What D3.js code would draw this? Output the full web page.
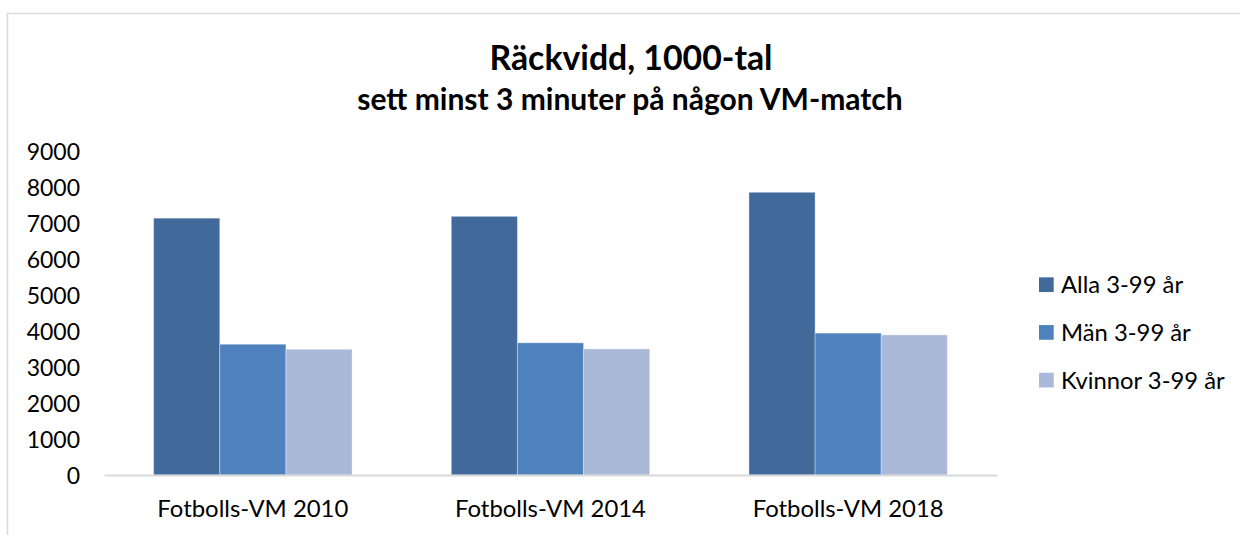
<!DOCTYPE html>
<html>
<head>
<meta charset="utf-8">
<script src="https://cdn.jsdelivr.net/npm/d3@7"></script>
<style>
  html, body { margin: 0; padding: 0; background: #ffffff; }
  svg { display: block; font-family: Lato, "Open Sans", sans-serif; }
</style>
</head>
<body>
<svg id="chart" width="1240" height="535"></svg>
<script>
const title = "Räckvidd, 1000-tal";
const subtitle = "sett minst 3 minuter på någon VM-match";
const categories = ["Fotbolls-VM 2010", "Fotbolls-VM 2014", "Fotbolls-VM 2018"];
const seriesNames = ["Alla 3-99 år", "Män 3-99 år", "Kvinnor 3-99 år"];
const alla = [7150, 7200, 7870];
const man = [3640, 3680, 3950];
const kvinnor = [3500, 3510, 3900];
const yTicks = [0, 1000, 2000, 3000, 4000, 5000, 6000, 7000, 8000, 9000];
const colors = ["#416a9b", "#4f81bd", "#aab9d7"];

const seriesValues = [alla, man, kvinnor];
const data = categories.map((c, i) => ({
  cat: c,
  vals: seriesNames.map((s, j) => ({ key: s, value: seriesValues[j][i] }))
}));

const svg = d3.select("#chart");

// outer chart border (only top & left visible, as in reference)
svg.append("rect")
  .attr("x", 7.5).attr("y", 13.5)
  .attr("width", 1300).attr("height", 600)
  .attr("fill", "none")
  .attr("stroke", "#d9d9d9")
  .attr("stroke-width", 1.5);

// titles
svg.append("text")
  .attr("x", 631).attr("y", 70)
  .attr("text-anchor", "middle")
  .attr("font-weight", 700)
  .attr("font-size", 33.8)
  .attr("fill", "#000")
  .text(title);
svg.append("text")
  .attr("x", 630).attr("y", 110)
  .attr("text-anchor", "middle")
  .attr("font-weight", 700)
  .attr("font-size", 30)
  .attr("fill", "#000")
  .text(subtitle);

const x0 = d3.scaleBand()
  .domain(categories)
  .range([104, 997])
  .paddingInner(1 / 3)
  .paddingOuter(1 / 6);
const x1 = d3.scaleBand()
  .domain(seriesNames)
  .range([0, x0.bandwidth()])
  .padding(0);
const y = d3.scaleLinear()
  .domain([0, 9000])
  .range([475, 151.7]);
const color = d3.scaleOrdinal().domain(seriesNames).range(colors);

// bars
const groups = svg.append("g").selectAll("g")
  .data(data)
  .join("g")
  .attr("transform", d => `translate(${x0(d.cat)},0)`);
groups.selectAll("rect")
  .data(d => d.vals)
  .join("rect")
  .attr("x", d => x1(d.key))
  .attr("y", d => y(d.value))
  .attr("width", x1.bandwidth())
  .attr("height", d => y(0) - y(d.value))
  .attr("fill", d => color(d.key))
  .attr("stroke", "#ffffff")
  .attr("stroke-opacity", 0.35)
  .attr("stroke-width", 1);

// y axis (labels only)
const yAxis = d3.axisLeft(y)
  .tickValues(yTicks)
  .tickFormat(d3.format("d"))
  .tickSize(0)
  .tickPadding(0);
const gy = svg.append("g")
  .attr("transform", "translate(80,0)")
  .call(yAxis);
gy.select(".domain").remove();
gy.selectAll("text")
  .attr("font-family", "Lato, 'Open Sans', sans-serif")
  .attr("font-size", 23)
  .attr("fill", "#000")
  .attr("dy", "0.36em");

// x axis
const xAxis = d3.axisBottom(x0).tickSize(0).tickPadding(0);
const gx = svg.append("g")
  .attr("transform", `translate(0,${y(0)})`)
  .call(xAxis);
gx.select(".domain")
  .attr("stroke", "#d9d9d9")
  .attr("stroke-width", 2);
gx.selectAll("text")
  .attr("font-family", "Lato, 'Open Sans', sans-serif")
  .attr("font-size", 23.9)
  .attr("fill", "#000")
  .attr("dy", 0)
  .attr("y", 42);

// legend
const legend = svg.append("g")
  .attr("transform", "translate(1039,284.7)");
const li = legend.selectAll("g")
  .data(seriesNames)
  .join("g")
  .attr("transform", (d, i) => `translate(0,${i * 47.7})`);
li.append("rect")
  .attr("x", 0).attr("y", -7.35)
  .attr("width", 14.7).attr("height", 14.7)
  .attr("fill", d => color(d));
li.append("text")
  .attr("x", 22).attr("y", 0)
  .attr("dy", "0.36em")
  .attr("font-size", 23.8)
  .attr("fill", "#000")
  .text(d => d);
</script>
</body>
</html>
